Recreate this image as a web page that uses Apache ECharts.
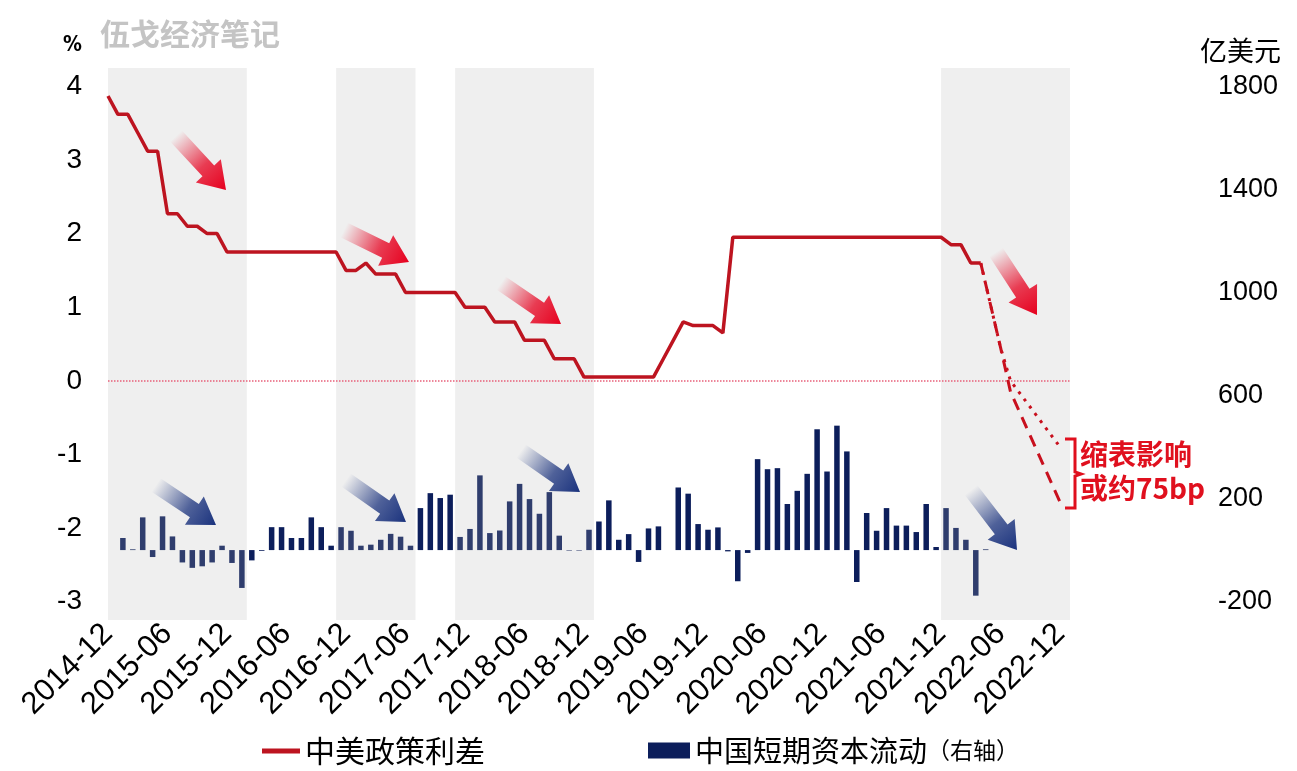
<!DOCTYPE html>
<html><head><meta charset="utf-8">
<script src="https://cdn.jsdelivr.net/npm/echarts@6/dist/echarts.min.js"></script>
<style>html,body{margin:0;padding:0;background:#fff}#c{width:1297px;height:771px}</style>
</head><body><div id="c"></div><script>
// ---- categories ----
function monthRange(y0, m0, count) {
  const out = [];
  for (let i = 0; i < count; i++) {
    const t = (m0 - 1) + i, y = y0 + Math.floor(t / 12), m = (t % 12) + 1;
    out.push(y + '-' + (m < 10 ? '0' + m : m));
  }
  return out;
}
const lineMonths = monthRange(2014, 12, 98);   // 2014-12 .. 2023-01
const barMonths  = monthRange(2014, 12, 97);   // 2014-12 .. 2022-12
const capStart = '2015-01';

// ---- tick labels ----
const leftTicks  = [-3, -2, -1, 0, 1, 2, 3, 4];
const rightTicks = [-200, 200, 600, 1000, 1400, 1800];

// ---- series values ----
const spreadName = '中美政策利差';
const capName = '中国短期资本流动';
// China-US policy spread (%), monthly from 2014-12 to 2022-04
const spread = [3.87,3.62,3.62,3.37,3.12,3.12,2.27,2.27,2.10,2.10,2.00,2.00,
  1.75,1.75,1.75,1.75,1.75,1.75,1.75,1.75,1.75,1.75,1.75,1.75,
  1.50,1.50,1.60,1.45,1.45,1.45,1.20,1.20,1.20,1.20,1.20,1.20,
  1.00,1.00,1.00,0.80,0.80,0.80,0.55,0.55,0.55,0.30,0.30,0.30,
  0.05,0.05,0.05,0.05,0.05,0.05,0.05,0.05,0.30,0.55,0.80,0.75,
  0.75,0.75,0.65,1.95,1.95,1.95,1.95,1.95,1.95,1.95,1.95,1.95,
  1.95,1.95,1.95,1.95,1.95,1.95,1.95,1.95,1.95,1.95,1.95,1.95,
  1.95,1.85,1.85,1.60,1.60];
// projections: [month, value]
const projNoQT   = [['2022-04',1.60],['2022-06',0.45],['2022-07',0.00],['2022-12',-0.90]];
const projWithQT = [['2022-04',1.60],['2022-06',0.45],['2022-07',-0.15],['2022-12',-1.65]];
// China short-term capital flow (100m USD), monthly from 2015-01
const capFlow = [47,3,127,-27,131,53,-48,-69,-63,-48,17,-50,
  -147,-40,-3,89,89,47,47,127,89,17,89,75,
  17,21,40,63,52,17,163,221,202,215,51,82,
  290,66,76,189,257,198,141,225,56,-2,-2,79,
  111,193,40,62,-46,84,92,0,243,219,101,79,
  88,-5,-121,-11,353,314,318,179,230,296,469,305,
  483,383,-124,144,75,163,95,95,70,179,12,163,
  86,40,-177,3];
// shaded periods
const shadeRanges = [['2014-12','2016-02'],['2016-11','2017-07'],['2017-11','2019-01'],['2021-12','2023-01']];

// ---- build series data ----
const spreadData = lineMonths.map((m, i) => i < spread.length ? spread[i] : null);
function projData(pairs) {
  const d = lineMonths.map(() => null);
  pairs.forEach(p => { d[lineMonths.indexOf(p[0])] = p[1]; });
  return d;
}
const s0 = barMonths.indexOf(capStart);
const capData = barMonths.map((m, i) => (i >= s0 && i - s0 < capFlow.length) ? capFlow[i - s0] : null);

const RED = '#bd1420', NAVY = '#0c1e5b';
const LMIN = -3.25, LMAX = 4.25;
const RMIN = -200 + (LMIN + 3) * 2000 / 7, RMAX = -200 + (LMAX + 3) * 2000 / 7;
const cjk = '"Noto Sans CJK SC", sans-serif';
const lat = '"Liberation Sans", Arial, sans-serif';

// ---- decorative arrows ----
function arrowPts(x1, y1, x2, y2, sw, hw, hl) {
  const dx = x2 - x1, dy = y2 - y1, L = Math.hypot(dx, dy), ux = dx / L, uy = dy / L, nx = -uy, ny = ux;
  const bx = x2 - ux * hl, by = y2 - uy * hl;
  return [[x1 + nx * sw / 2, y1 + ny * sw / 2], [bx + nx * sw / 2, by + ny * sw / 2], [bx + nx * hw / 2, by + ny * hw / 2],
    [x2, y2], [bx - nx * hw / 2, by - ny * hw / 2], [bx - nx * sw / 2, by - ny * sw / 2], [x1 - nx * sw / 2, y1 - ny * sw / 2]];
}
function arrow(a, rgb) {
  return { type: 'polygon', z: 20, silent: true,
    shape: { points: arrowPts(a[0], a[1], a[2], a[3], 16, 34, 26) },
    style: { fill: { type: 'linear', x: a[0], y: a[1], x2: a[2], y2: a[3], global: true,
      colorStops: [{ offset: 0, color: 'rgba(' + rgb + ',0)' }, { offset: 0.55, color: 'rgba(' + rgb + ',0.75)' }, { offset: 1, color: 'rgba(' + rgb + ',1)' }] } } };
}
const redArrows = [[176,136,226,190],[344,230,409,262],[501,283,561,324],[996,252,1037,315]];
const blueArrows = [[156,485,216,525],[346,480,406,522],[521,451,580,492],[971,490,1017,550]];
const graphics = [];
redArrows.forEach(a => graphics.push(arrow(a, '230,0,30')));
blueArrows.forEach(a => graphics.push(arrow(a, '26,50,125')));
graphics.push({ type: 'text', left: 100, top: 19, silent: true, z: 20,
  style: { text: '伍戈经济笔记', fill: '#c4c4c4', font: 'bold 30px ' + cjk } });
graphics.push({ type: 'polyline', silent: true, z: 20,
  shape: { points: [[1065,439],[1075,439],[1075,472],[1081,474],[1075,476],[1075,508],[1065,508]] },
  style: { stroke: '#e0101e', lineWidth: 3, fill: null } });
graphics.push({ type: 'text', left: 1080, top: 437, silent: true, z: 20,
  style: { text: '缩表影响\n或约75bp', fill: '#e0101e', font: 'bold 28px ' + cjk, lineHeight: 34 } });

const chart = echarts.init(document.getElementById('c'));
chart.setOption({
  animation: false,
  backgroundColor: '#fff',
  grid: { left: 108, right: 227, top: 68, bottom: 151, containLabel: false },
  xAxis: [
    { type: 'category', data: lineMonths, boundaryGap: false,
      axisLine: { show: false }, axisTick: { show: false }, splitLine: { show: false },
      axisLabel: { interval: 5, rotate: 45, margin: 9, fontSize: 31, color: '#000', fontFamily: lat } },
    { type: 'category', data: barMonths, boundaryGap: true, show: false }
  ],
  yAxis: [
    { type: 'value', min: LMIN, max: LMAX, position: 'left',
      name: '%', nameLocation: 'end', nameGap: 12,
      nameTextStyle: { fontSize: 21, fontWeight: 'bold', color: '#000', align: 'right', padding: [0, 26, 0, 0], fontFamily: '"DejaVu Sans Condensed", ' + lat },
      axisLine: { show: false }, axisTick: { show: false }, splitLine: { show: false },
      axisLabel: { customValues: leftTicks, margin: 26, fontSize: 28, color: '#000', fontFamily: lat } },
    { type: 'value', min: RMIN, max: RMAX, position: 'right',
      name: '亿美元', nameLocation: 'end', nameGap: 4,
      nameTextStyle: { fontSize: 27, color: '#000', align: 'left', padding: [0, 0, 0, 130], fontFamily: cjk },
      axisLine: { show: false }, axisTick: { show: false }, splitLine: { show: false },
      axisLabel: { customValues: rightTicks, margin: 148, fontSize: 27, color: '#000', fontFamily: lat,
        formatter: v => String(v) } }
  ],
  legend: [
    { data: [{ name: spreadName, icon: 'rect' }], left: 262, top: 736, padding: 0, itemWidth: 38, itemHeight: 5, itemGap: 0,
      textStyle: { fontSize: 30, color: '#000', fontFamily: cjk } },
    { data: [{ name: capName, icon: 'rect' }], left: 648, top: 736, padding: 0, itemWidth: 42, itemHeight: 16, itemGap: 0,
      formatter: n => '{a|' + n + '}{b|（右轴）}',
      textStyle: { color: '#000', fontFamily: cjk, rich: { a: { fontSize: 29, fontFamily: cjk, color: '#000' }, b: { fontSize: 23, fontFamily: cjk, color: '#000' } } } }
  ],
  graphic: graphics,
  series: [
    { name: capName, type: 'bar', xAxisIndex: 1, yAxisIndex: 1, data: capData, barWidth: 5.5, z: 2,
      itemStyle: { color: NAVY } },
    { name: spreadName, type: 'line', xAxisIndex: 0, yAxisIndex: 0, data: spreadData, z: 5,
      symbol: 'none', lineStyle: { color: RED, width: 3.5 }, itemStyle: { color: RED },
      markLine: { silent: true, symbol: 'none', label: { show: false },
        lineStyle: { color: '#e8607a', width: 1.5, type: 'dotted' }, data: [{ yAxis: 0 }] },
      markArea: { silent: true, z: 3, itemStyle: { color: 'rgba(180,180,180,0.21)' },
        data: shadeRanges.map(r => [{ xAxis: r[0] }, { xAxis: r[1] }]) } },
    { name: 'proj1', type: 'line', xAxisIndex: 0, yAxisIndex: 0, data: projData(projNoQT), connectNulls: true, z: 5,
      symbol: 'none', lineStyle: { color: '#c8101e', width: 3, type: [3, 6] } },
    { name: 'proj2', type: 'line', xAxisIndex: 0, yAxisIndex: 0, data: projData(projWithQT), connectNulls: true, z: 5,
      symbol: 'none', lineStyle: { color: '#c8101e', width: 3, type: [12, 8] } }
  ]
});
</script></body></html>
